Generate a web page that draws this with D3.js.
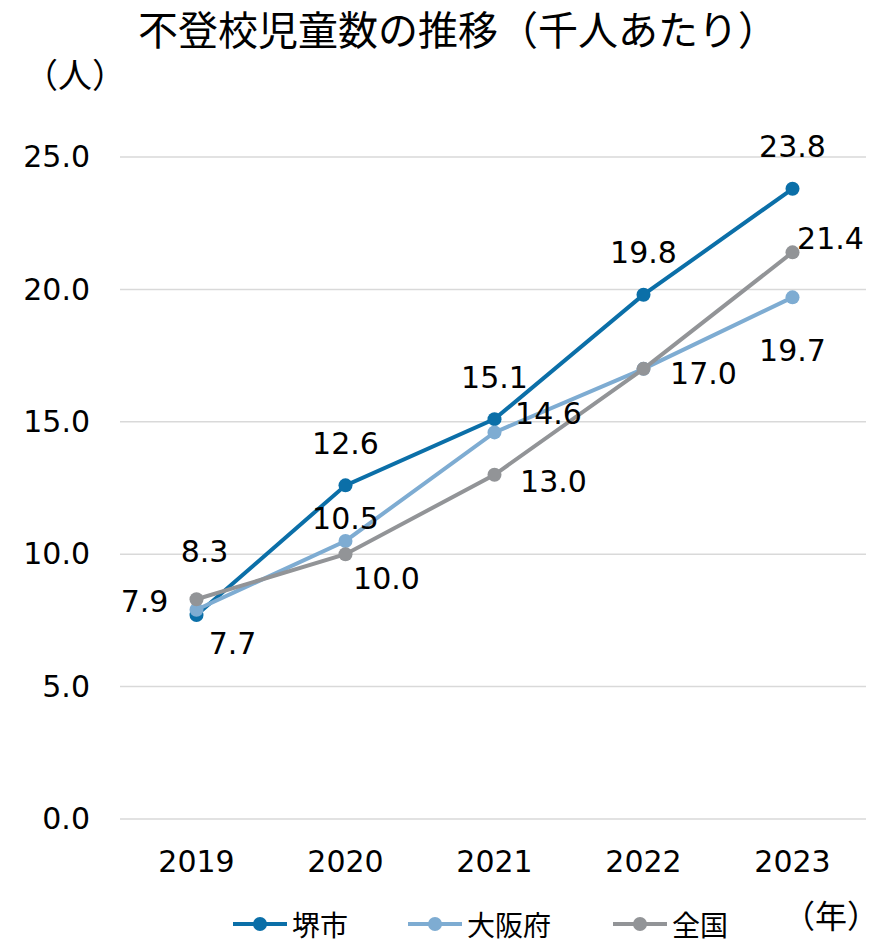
<!DOCTYPE html>
<html>
<head>
<meta charset="utf-8">
<title>不登校児童数の推移</title>
<script src="https://cdn.jsdelivr.net/npm/d3@7"></script>
<style>
  body { margin: 0; background: #fff; }
  svg text { fill: #000; }
  .num { font-family: "DejaVu Sans", Verdana, sans-serif; }
  .jp { font-family: "Noto Sans CJK JP", sans-serif; }
</style>
</head>
<body>
<script>
// data
var years = ["2019", "2020", "2021", "2022", "2023"]
var seriesNames = ["堺市", "大阪府", "全国"]
var sakai = [7.7, 12.6, 15.1, 19.8, 23.8]
var osaka = [7.9, 10.5, 14.6, 17.0, 19.7]
var zenkoku = [8.3, 10.0, 13.0, 17.0, 21.4]
var yTicks = [0, 5, 10, 15, 20, 25]
var colors = ["#0b6fa8", "#7eacd2", "#929497"]

// where each value label sits relative to its point (null = not shown)
var labelOffsets = [
  [[36, 28], [0, -42], [0, -42], [0, -42], [0, -42]],
  [[-52, -8], [0, -22], [54, -19], [60, 5], [0, 53]],
  [[8, -48], [41, 24], [59, 7], null, [38, -14]]
]

var W = 879, H = 945
var svg = d3.select("body").append("svg").attr("width", W).attr("height", H)

var x = d3.scaleBand().domain(years).range([122, 867])
var y = d3.scaleLinear().domain([0, 25]).range([819, 157])

// title
svg.append("text").attr("class", "jp")
  .attr("x", 458).attr("y", 45)
  .attr("text-anchor", "middle")
  .style("font-size", "40px")
  .text("不登校児童数の推移（千人あたり）")

svg.append("text").attr("class", "jp")
  .attr("x", 24).attr("y", 88)
  .style("font-size", "34px")
  .text("（人）")

// grid
svg.selectAll(".grid").data(yTicks).enter().append("line")
  .attr("x1", 120).attr("x2", 866)
  .attr("y1", function(d){ return y(d) }).attr("y2", function(d){ return y(d) })
  .attr("stroke", "#d9d9d9").attr("stroke-width", 1.5)

var yAxis = svg.append("g").attr("transform", "translate(90,0)")
  .call(d3.axisLeft(y).tickValues(yTicks).tickFormat(d3.format(".1f")).tickSize(0).tickPadding(0))
yAxis.select(".domain").remove()
yAxis.selectAll("text").attr("class", "num").style("font-size", "30px").attr("fill", "#000")
  .attr("font-family", null)

var xAxis = svg.append("g").attr("transform", "translate(0,851)")
  .call(d3.axisBottom(x).tickSize(0).tickPadding(0))
xAxis.select(".domain").remove()
xAxis.selectAll("text").attr("class", "num").style("font-size", "30px").attr("fill", "#000")
  .attr("font-family", null)

// lines
var allSeries = [sakai, osaka, zenkoku]
var line = d3.line()
  .x(function(d, i){ return x(years[i]) + x.bandwidth() / 2 })
  .y(function(d){ return y(d) })

allSeries.forEach(function(vals, s){
  svg.append("path").datum(vals)
    .attr("d", line)
    .attr("fill", "none")
    .attr("stroke", colors[s])
    .attr("stroke-width", 4)
  svg.selectAll(".pt" + s).data(vals).enter().append("circle")
    .attr("class", "pt" + s)
    .attr("cx", function(d, i){ return x(years[i]) + x.bandwidth() / 2 })
    .attr("cy", function(d){ return y(d) })
    .attr("r", 7)
    .attr("fill", colors[s])
})

// value labels
allSeries.forEach(function(vals, s){
  vals.forEach(function(v, i){
    var off = labelOffsets[s][i]
    if (!off) return
    svg.append("text").attr("class", "num")
      .attr("x", x(years[i]) + x.bandwidth() / 2 + off[0])
      .attr("y", y(v) + off[1])
      .attr("text-anchor", "middle")
      .attr("dominant-baseline", "central")
      .style("font-size", "30px")
      .text(d3.format(".1f")(v))
  })
})

// legend
var legX = [233, 408, 613]
seriesNames.forEach(function(name, s){
  var g = svg.append("g").attr("transform", "translate(" + legX[s] + ",924)")
  g.append("line").attr("x1", 0).attr("x2", 54).attr("stroke", colors[s]).attr("stroke-width", 4)
  g.append("circle").attr("cx", 27).attr("r", 7).attr("fill", colors[s])
  g.append("text").attr("class", "jp").attr("x", 59).attr("y", 0)
    .attr("dominant-baseline", "central")
    .style("font-size", "28px").text(name)
})

svg.append("text").attr("class", "jp")
  .attr("x", 783).attr("y", 928)
  .style("font-size", "32px")
  .text("（年）")
</script>
</body>
</html>
